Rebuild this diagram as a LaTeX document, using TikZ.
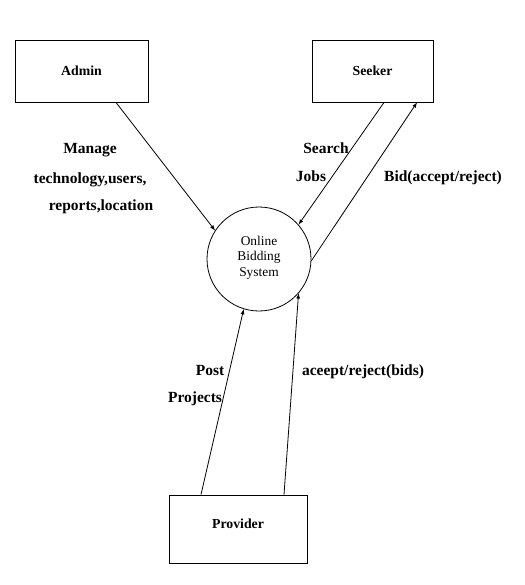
\documentclass[tikz,border=0pt]{standalone}
\usepackage{fontspec}
\setmainfont{Liberation Serif}
\begin{document}
\begin{tikzpicture}[x=1pt,y=-1pt,>=latex,line width=0.8pt]
				\useasboundingbox (0,0) rectangle (524,585);
				\tikzset{
					ent/.style={draw,rectangle,line width=0.9pt,font=\fontsize{13.8}{16}\selectfont\bfseries,text height=9pt},
					lbl/.style={anchor=base,font=\fontsize{15.5}{18}\selectfont\bfseries,inner sep=0pt}
				}
				\node[ent,minimum width=133,minimum height=62] (admin) at (81.5,71) {Admin};
				\node[ent,minimum width=121,minimum height=62] (seeker) at (372.5,71) {Seeker};
				\node[ent,minimum width=138,minimum height=68,text depth=10pt] (provider) at (238,529) {Provider};
				\node[draw,circle,minimum size=104,align=center,text depth=6pt,font=\fontsize{13.4}{15.5}\selectfont] (obs) at (259,259) {Online\\Bidding\\System};
				% flows
				\draw[->] ([xshift=34.5]admin.south) -- (obs.147);
				\draw[->] ([xshift=11.5]seeker.south) -- (obs.41);
				\draw[->] (obs.-2) -- ([xshift=44.5]seeker.south);
				\draw[->] ([xshift=-37]provider.north) -- (obs.253);
				\draw[->] ([xshift=46]provider.north) -- (obs.-41);
				% labels
				\node[lbl] (l1) at (90,154) {Manage};
				\node[lbl] (l2) at (90,183) {technology,users,};
				\node[lbl] (l3) at (101,210) {reports,location};
				\node[lbl] (l4) at (326,154) {Search};
				\node[lbl] (l5) at (311,182) {Jobs};
				\node[lbl] (l6) at (443,182) {Bid(accept/reject)};
				\node[lbl] (l7) at (210,375) {Post};
				\node[lbl] (l8) at (195,402) {Projects};
				\node[lbl] (l9) at (363,375) {aceept/reject(bids)};
			\end{tikzpicture}
\end{document}
